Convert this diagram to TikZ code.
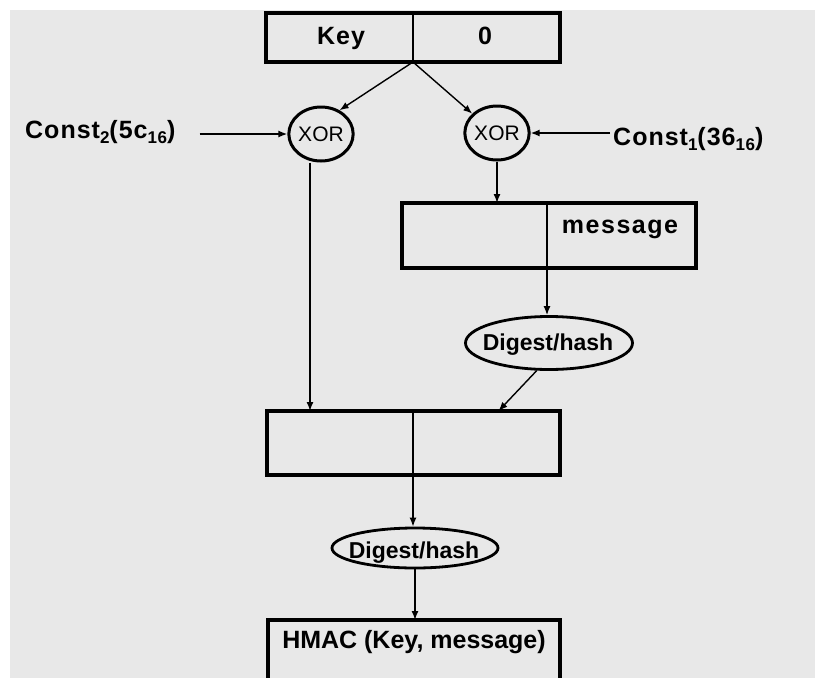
\documentclass[tikz,border=0pt]{standalone}
\usepackage{fontspec}
\setmainfont{Liberation Sans}
\usetikzlibrary{shapes.geometric,arrows.meta,calc}
\definecolor{panel}{HTML}{E8E8E8}
% lowered index digits used in the constant labels
\newcommand\idx[1]{\raisebox{-5pt}{\fontsize{17}{20}\selectfont #1}}
\begin{document}
\begin{tikzpicture}[x=1pt,y=-1pt,
  cell/.style={rectangle, inner sep=0pt, outer sep=0pt},
  frame/.style={line width=3.4pt, line join=miter},
  divider/.style={line width=1.4pt},
  xorop/.style={ellipse, draw, line width=3pt, minimum width=64pt, minimum height=54pt,
    inner sep=0pt, font=\fontsize{21}{24}\selectfont},
  hashop/.style={ellipse, draw, line width=2.8pt, inner sep=0pt},
  tag/.style={inner sep=0pt, anchor=base, font=\bfseries\fontsize{25}{29}\selectfont},
  wide/.style={font=\bfseries\fontsize{25}{29}\selectfont\addfontfeature{LetterSpace=#1}},
  hashtag/.style={inner sep=0pt, anchor=base, font=\bfseries\fontsize{23}{27}\selectfont},
  flow/.style={line width=1.4pt, -{Latex[length=9pt,width=7pt]}},
]
% canvas
\useasboundingbox (0,0) rectangle (815,678);
\fill[white] (0,0) rectangle (815,678);
\fill[panel] (10,10) rectangle (815,678);

% key block
\node[cell, minimum width=147pt, minimum height=49pt] (keyL) at (339.5,37.5) {};
\node[cell, minimum width=147pt, minimum height=49pt] (keyR) at (486.5,37.5) {};
\draw[frame] (keyL.north west) rectangle (keyR.south east);
\draw[divider] (keyL.north east) -- (keyL.south east);
\node[tag, wide=4] (keytxt) at (341,44) {Key};
\node[tag] (zerotxt) at (485,44) {0};

% XOR operators and constants
\node[xorop] (xorL) at (321,134) {XOR};
\node[xorop] (xorR) at (497,133) {XOR};
\node[tag, wide=4, anchor=base west] (c2) at (25,138) {Const\idx{2}(5c\idx{16})};
\node[tag, wide=4, anchor=base west] (c1) at (613,145) {Const\idx{1}(36\idx{16})};

% inner block: padded key + message
\node[cell, minimum width=145pt, minimum height=65pt] (msgL) at (474.5,235.5) {};
\node[cell, minimum width=149pt, minimum height=65pt] (msgR) at (621.5,235.5) {};
\draw[frame] (msgL.north west) rectangle (msgR.south east);
\draw[divider] (msgL.north east) -- (msgL.south east);
\node[tag, wide=6] (msgtxt) at (620,233) {message};

% inner hash
\node[hashop, minimum width=167pt, minimum height=53pt] (dig1) at (549,343) {};
\node[hashtag] (dig1txt) at (548,350) {Digest/hash};

% outer block
\node[cell, minimum width=146pt, minimum height=64pt] (midL) at (340,443) {};
\node[cell, minimum width=147pt, minimum height=64pt] (midR) at (486.5,443) {};
\draw[frame] (midL.north west) rectangle (midR.south east);
\draw[divider] (midL.north east) -- (midL.south east);

% outer hash
\node[hashop, minimum width=166pt, minimum height=40pt] (dig2) at (415,548) {};
\node[hashtag] (dig2txt) at (414,558) {Digest/hash};

% result
\coordinate (hmacTL) at (268,620);
\coordinate (hmacTR) at (560,620);
\node[tag] (hmac) at (414,648) {HMAC (Key, message)};
\begin{scope}
  \clip (0,0) rectangle (815,678);
  \draw[frame] (268,700) -- (hmacTL) -- (hmacTR) -- (560,700);
\end{scope}

% connectors
\draw[flow] (keyL.south east) -- (xorL.52);
\draw[flow] (keyL.south east) -- (xorR.142);
\draw[flow, shorten <=24pt] (c2.east |- xorL.west) -- (xorL.west);
\draw[flow, shorten <=3pt] (c1.west |- xorR.east) -- (xorR.east);
\draw[flow] (xorR.south) -- (xorR.south |- msgL.north);
\draw[flow] (msgL.south east) -- (msgL.south east |- dig1.north);
\draw[flow] (dig1.-114) -- ([xshift=12pt]midR.north);
\draw[flow] ([xshift=-11pt]xorL.south) -- ([xshift=-11pt]xorL.south |- midL.north);
\draw[flow] (midL.south east) -- (midL.south east |- dig2.north);
\draw[flow] (dig2.south) -- (dig2.south |- hmacTL);
\end{tikzpicture}
\end{document}
